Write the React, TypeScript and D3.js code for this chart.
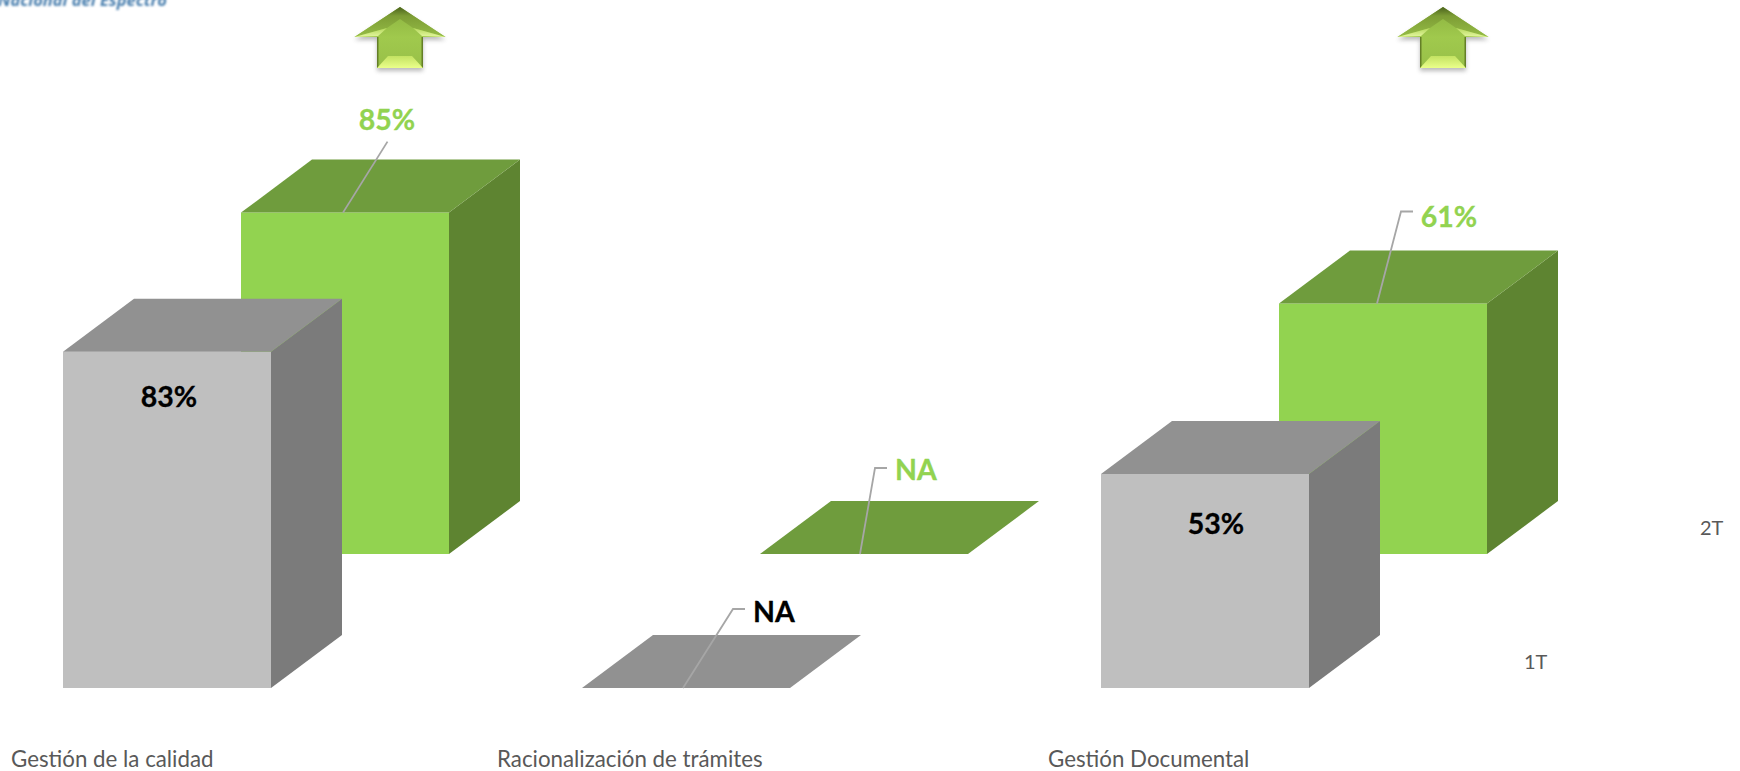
import React from "react";
import * as d3 from "d3";

const categories = ["Gestión de la calidad", "Racionalización de trámites", "Gestión Documental"];
const seriesNames = ["2T", "1T"];
const values2T = [84.5, 0, 62];
const values1T = [83.2, 0, 53];
const labels2T = ["85%", "NA", "61%"];
const labels1T = ["83%", "NA", "53%"];
const trendCategories = ["Gestión de la calidad", "Gestión Documental"];

const W = 1740;
const H = 771;
const barW = 208;
const depthX = 71;
const depthY = 53;

const xCat = d3.scalePoint<string>().domain(categories).range([63, 1101]);
const xSeries = d3.scalePoint<string>().domain(["1T", "2T"]).range([0, 178]);
const yBase = d3.scalePoint<string>().domain(["1T", "2T"]).range([688, 554]);
const h = d3.scaleLinear().domain([0, 100]).range([0, 404]);

const catLabelX = [11, 497, 1048];

const palette: Record<string, { front: string; top: string; side: string; text: string }> = {
  "2T": { front: "#92d350", top: "#6f9c3d", side: "#5e8431", text: "#92d350" },
  "1T": { front: "#bfbfbf", top: "#919191", side: "#7b7b7b", text: "#000000" },
};

// label centre & leader points, relative to the front-top-left corner of each bar
const labelLayout: Record<string, { dx: number; dy: number; leader?: [number, number][] }[]> = {
  "1T": [
    { dx: 106, dy: 44 },
    { dx: 192, dy: -77, leader: [[101, 0], [151, -79], [163, -79]] },
    { dx: 115, dy: 49 },
  ],
  "2T": [
    { dx: 146, dy: -94, leader: [[102, 0], [146.5, -71]] },
    { dx: 156, dy: -85, leader: [[100, 0], [115, -86], [127, -86]] },
    { dx: 170, dy: -88, leader: [[98, 0], [122, -92], [134, -92]] },
  ],
};

const line = d3.line();
const poly = (pts: [number, number][]) => line(pts) + "Z";

function Bar({ cat, s, value }: { cat: string; s: string; value: number }) {
  const x0 = xCat(cat)! + xSeries(s)!;
  const y1 = yBase(s)!;
  const y0 = y1 - h(value);
  const c = palette[s];
  const x1 = x0 + barW;
  return (
    <g>
      {value > 0 && <path d={poly([[x0, y0], [x1, y0], [x1, y1], [x0, y1]])} fill={c.front} />}
      {value > 0 && (
        <path d={poly([[x1, y0], [x1 + depthX, y0 - depthY], [x1 + depthX, y1 - depthY], [x1, y1]])} fill={c.side} />
      )}
      <path d={poly([[x0, y0], [x1, y0], [x1 + depthX, y0 - depthY], [x0 + depthX, y0 - depthY]])} fill={c.top} />
    </g>
  );
}

function BarLabel({ cat, i, s, value, label }: { cat: string; i: number; s: string; value: number; label: string }) {
  const x0 = xCat(cat)! + xSeries(s)!;
  const y0 = yBase(s)! - h(value);
  const l = labelLayout[s][i];
  return (
    <g>
      {l.leader && (
        <path
          d={line(l.leader.map(([a, b]) => [x0 + a, y0 + b] as [number, number]))!}
          fill="none"
          stroke="#a6a6a6"
          strokeWidth={1.8}
        />
      )}
      <text
        x={x0 + l.dx}
        y={y0 + l.dy}
        textAnchor="middle"
        dominantBaseline="central"
        fontFamily="Lato"
        fontWeight={700}
        fontSize={28.5}
        stroke={palette[s].text}
        strokeWidth={0.3}
        fill={palette[s].text}
      >
        {label}
      </text>
    </g>
  );
}

function Arrow({ cx }: { cx: number }) {
  const tipY = 7;
  const wingY = 37;
  const botY = 68;
  const hw = 45.5;
  const sw = 23;
  const outline: [number, number][] = [
    [cx, tipY], [cx + hw, wingY], [cx + sw, wingY], [cx + sw, botY], [cx - sw, botY], [cx - sw, wingY], [cx - hw, wingY],
  ];
  return (
    <g>
      <path d={poly(outline)} fill="#555" opacity={0.4} transform="translate(0,3)" filter="url(#arrowShadow)" />
      <path d={poly(outline)} fill="url(#arrowBody)" />
      <path d={poly([[cx, tipY], [cx + hw, wingY], [cx + 13, 28], [cx, 19]])} fill="url(#arrowTip)" />
      <path d={poly([[cx, tipY], [cx - hw, wingY], [cx - 13, 28], [cx, 19]])} fill="url(#arrowTip)" />
      <path d={poly([[cx + hw, wingY], [cx + 22, 36], [cx + 13, 28]])} fill="url(#arrowWing)" />
      <path d={poly([[cx - hw, wingY], [cx - 22, 36], [cx - 13, 28]])} fill="url(#arrowWing)" />
      <path d={poly([[cx - sw, botY], [cx + sw, botY], [cx + 12, 56], [cx - 12, 56]])} fill="url(#arrowBot)" />
      <path d={poly([[cx + sw, 37], [cx + sw, botY], [cx + 21.5, 66], [cx + 21.5, 37]])} fill="#647f27" />
      <path d={poly([[cx - sw, 37], [cx - sw, botY], [cx - 21.5, 66], [cx - 21.5, 37]])} fill="#647f27" />
    </g>
  );
}

export default function App() {
  const axisY = 758;
  return (
    <svg
      width={W}
      height={H}
      viewBox={`0 0 ${W} ${H}`}
      style={{ position: "absolute", left: 0, top: 0, background: "#fff" }}
    >
      <defs>
        <filter id="arrowShadow" x="-20%" y="-20%" width="140%" height="140%">
          <feGaussianBlur stdDeviation="2" />
        </filter>
        <filter id="logoBlur">
          <feGaussianBlur stdDeviation="0.8" />
        </filter>
        <linearGradient id="arrowBody" x1="0" y1="0" x2="0" y2="1">
          <stop offset="0" stopColor="#8bb23f" />
          <stop offset="0.5" stopColor="#a0c94d" />
          <stop offset="1" stopColor="#98c048" />
        </linearGradient>
        <linearGradient id="arrowTip" x1="0" y1="0" x2="0" y2="1">
          <stop offset="0" stopColor="#4a611d" />
          <stop offset="0.3" stopColor="#7d9d35" />
          <stop offset="1" stopColor="#95bc46" />
        </linearGradient>
        <linearGradient id="arrowWing" x1="0" y1="0" x2="0" y2="1">
          <stop offset="0" stopColor="#b5d85c" />
          <stop offset="1" stopColor="#e4f7a0" />
        </linearGradient>
        <linearGradient id="arrowBot" x1="0" y1="0" x2="0" y2="1">
          <stop offset="0" stopColor="#c3e262" />
          <stop offset="1" stopColor="#eaff8a" />
        </linearGradient>
      </defs>

      <text
        x={-2}
        y={6}
        fontFamily="Open Sans"
        fontWeight={700}
        fontStyle="italic"
        fontSize={16.5}
        fill="#4a7fae"
        filter="url(#logoBlur)"
      >
        Nacional del Espectro
      </text>

      {trendCategories.map((c) => (
        <Arrow key={c} cx={c === categories[0] ? 400 : 1443} />
      ))}

      {categories.map((cat) => (
        <Bar key={"g" + cat} cat={cat} s="2T" value={values2T[categories.indexOf(cat)]} />
      ))}
      {categories.map((cat) => (
        <Bar key={"b" + cat} cat={cat} s="1T" value={values1T[categories.indexOf(cat)]} />
      ))}
      {categories.map((cat, i) => (
        <BarLabel key={"lg" + cat} cat={cat} i={i} s="2T" value={values2T[i]} label={labels2T[i]} />
      ))}
      {categories.map((cat, i) => (
        <BarLabel key={"lb" + cat} cat={cat} i={i} s="1T" value={values1T[i]} label={labels1T[i]} />
      ))}

      {categories.map((cat, i) => (
        <text
          key={cat}
          x={catLabelX[i]}
          y={axisY}
          dominantBaseline="central"
          fontFamily="Lato"
          fontSize={22.3}
          fill="#595959"
        >
          {cat}
        </text>
      ))}
      {seriesNames.map((s) => (
        <text
          key={s}
          x={s === "1T" ? 1524 : 1700}
          y={yBase(s)! - 27}
          dominantBaseline="central"
          fontFamily="Lato"
          fontSize={20}
          fill="#595959"
        >
          {s}
        </text>
      ))}
    </svg>
  );
}
